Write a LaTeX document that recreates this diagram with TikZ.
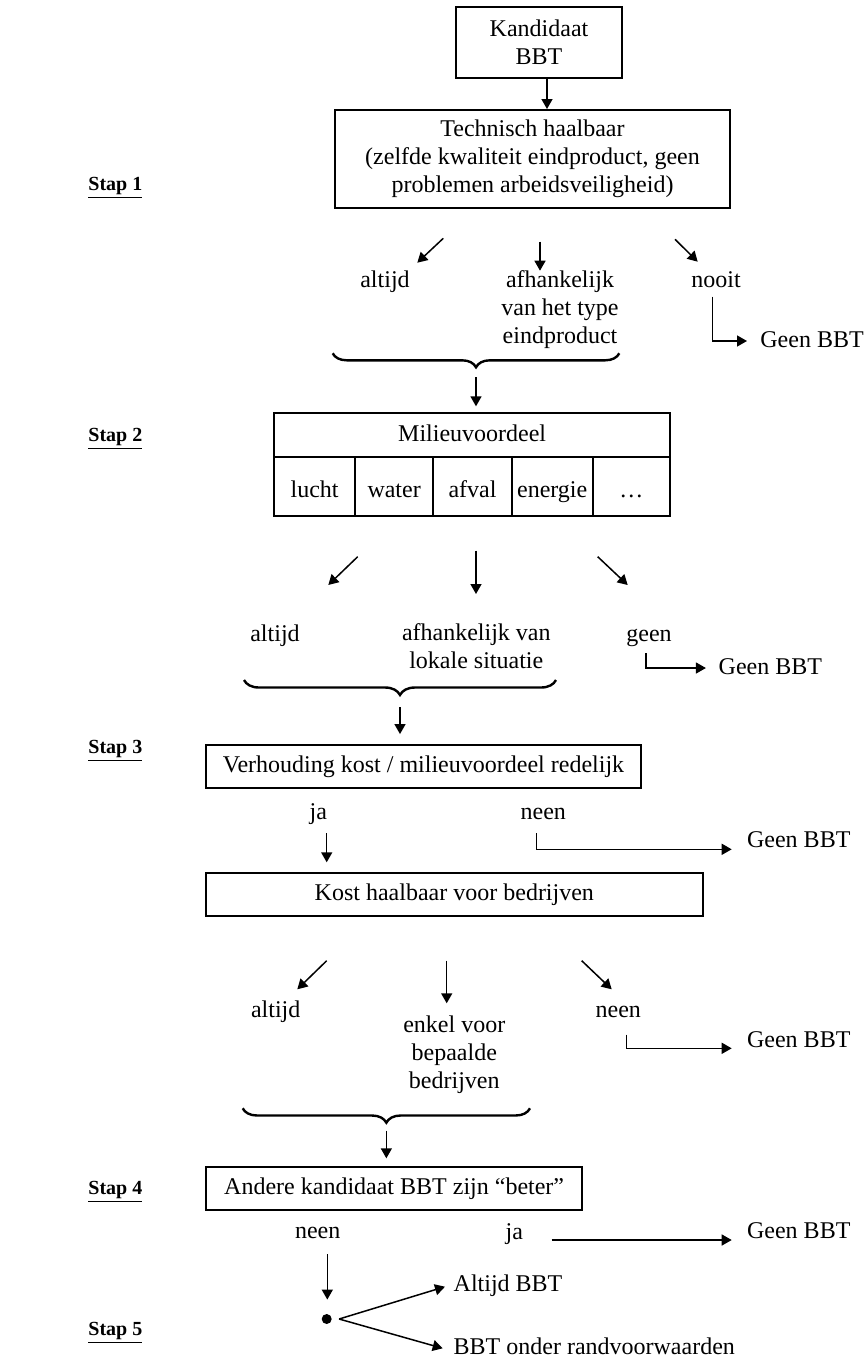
\documentclass[tikz,border=0pt]{standalone}
\usepackage{fontspec}
\setmainfont{Liberation Serif}
\usetikzlibrary{arrows.meta,decorations.pathreplacing}
\begin{document}
\begin{tikzpicture}[x=0.5pt,y=-0.5pt,
  every node/.style={font=\fontsize{12pt}{14pt}\selectfont},
  lbl/.style={inner sep=0pt,text height=9pt,text depth=3pt},
  multi/.style={inner sep=0pt,align=center},
  box/.style={draw,line width=1pt,inner sep=0pt,align=center},
  cell/.style={box,minimum height=29.5pt,text height=13pt,text depth=1.5pt},
  stap/.style={inner sep=0pt,text height=7.5pt,text depth=2.5pt,anchor=west,font=\fontsize{10pt}{12pt}\selectfont\bfseries},
  arr/.style={line width=0.75pt,-{Triangle[length=5pt,width=5.5pt]}},
  brc/.style={line width=1.2pt,decorate,decoration={brace,mirror,amplitude=#1}},
  knotdot/.style={circle,fill,inner sep=0pt,minimum size=5pt}
]
% page
\fill[white] (0,0) rectangle (864,1361);
\useasboundingbox (0,0) rectangle (864,1361);

% step labels
\node[stap] (s1) at (88,185) {\underline{Stap 1}};
\node[stap] (s2) at (88,436) {\underline{Stap 2}};
\node[stap] (s3) at (88,748) {\underline{Stap 3}};
\node[stap] (s4) at (88,1189) {\underline{Stap 4}};
\node[stap] (s5) at (88,1330) {\underline{Stap 5}};

% ---- step 1 ----
\node[box,minimum width=83pt,minimum height=35.5pt] (kand) at (539,42.5) {Kandidaat\\BBT};
\node[box,minimum width=197.5pt,minimum height=49pt] (tech) at (532.5,159)
  {Technisch haalbaar\\(zelfde kwaliteit eindproduct, geen\\problemen arbeidsveiligheid)};
\coordinate (k1) at ([xshift=4pt]kand.south);
\draw[arr] (k1) -- (k1 |- tech.north);

\coordinate (a1s) at (443.3,238.3); \coordinate (a1e) at (417.3,262.7);
\coordinate (b1s) at (540,241.7);   \coordinate (b1e) at (540,270.7);
\coordinate (c1s) at (675,239.3);   \coordinate (c1e) at (697.7,261.7);
\draw[arr] (a1s) -- (a1e);
\draw[arr] (b1s) -- (b1e);
\draw[arr] (c1s) -- (c1e);

\node[lbl] (alt1) at (385,281.7) {altijd};
\node[multi] (afh1) at (560,310) {afhankelijk\\van het type\\eindproduct};
\node[lbl] (nooit) at (716,281.7) {nooit};
\node[lbl,anchor=west] (g1) at (760,341) {Geen BBT};
\draw[arr] ([shift={(-3.3,15)}]nooit.center) |- ([xshift=-6.5pt]g1.west);

\draw[brc=7pt] (332.7,353.3) -- (619.3,353.3);
\coordinate (t1) at (476,367.3);

% ---- step 2 ----
\node[box,lbl,minimum width=197.85pt,minimum height=21.7pt] (mil) at (472.15,435) {Milieuvoordeel};
\node[cell,minimum width=40.35pt] (lucht) at (314.65,486.2) {lucht};
\node[cell,minimum width=39.15pt] (water) at (394.15,486.2) {water};
\node[cell,minimum width=39.2pt] (afval) at (472.5,486.2) {afval};
\node[cell,minimum width=40.5pt] (energie) at (552.2,486.2) {energie};
\node[cell,minimum width=38.65pt] (rest) at (631.35,486.2) {…};
\draw[arr,shorten <=5pt,shorten >=3pt] (t1) -- (t1 |- mil.north);

\coordinate (a2s) at (357.7,556.7); \coordinate (a2e) at (328.3,585);
\coordinate (b2s) at (476,550.7);   \coordinate (b2e) at (476,594);
\coordinate (c2s) at (597.7,556.7); \coordinate (c2e) at (627.7,585);
\draw[arr] (a2s) -- (a2e);
\draw[arr] (b2s) -- (b2e);
\draw[arr] (c2s) -- (c2e);

\node[lbl] (alt2) at (275,635) {altijd};
\node[multi] (afh2) at (476.3,646.5) {afhankelijk van\\lokale situatie};
\node[lbl] (geen) at (649,635) {geen};
\node[lbl,anchor=west] (g2) at (718.3,668) {Geen BBT};
\draw[arr] ([shift={(-3,18.3)}]geen.center) |- ([xshift=-6.2pt]g2.west);

\draw[brc=7.5pt] (244,680) -- (556,680);
\coordinate (t2) at (400,695);

% ---- step 3 ----
\node[box,lbl,minimum width=217.5pt,minimum height=21.65pt] (verh) at (423.5,766.7)
  {Verhouding kost / milieuvoordeel redelijk};
\draw[arr,shorten <=6pt,shorten >=5pt] (t2) -- (t2 |- verh.north);

\node[lbl] (ja3) at (318.3,813.3) {ja};
\node[lbl] (neen3) at (543.3,813.3) {neen};
\node[lbl,anchor=west] (g3) at (746.7,841.7) {Geen BBT};
\draw[arr] ([shift={(-6.6,20)}]neen3.center) |- ([shift={(-15,7.6)}]g3.west);

\node[box,lbl,minimum width=248.35pt,minimum height=21.65pt] (kost) at (454.35,894.35)
  {Kost haalbaar voor bedrijven};
\coordinate (j3) at ([shift={(8.4,20)}]ja3.center);
\draw[arr,shorten >=4.7pt] (j3) -- (j3 |- kost.north);

\coordinate (a3s) at (326.7,960.7); \coordinate (a3e) at (297.3,989.3);
\coordinate (b3s) at (446.7,960.7); \coordinate (b3e) at (446.7,1003.3);
\coordinate (c3s) at (581.7,960.7); \coordinate (c3e) at (611.7,989.3);
\draw[arr] (a3s) -- (a3e);
\draw[arr] (b3s) -- (b3e);
\draw[arr] (c3s) -- (c3e);

\node[lbl] (alt3) at (275.7,1011.7) {altijd};
\node[multi] (enkel) at (454.3,1055) {enkel voor\\bepaalde\\bedrijven};
\node[lbl] (neen4) at (618.3,1011.7) {neen};
\node[lbl,anchor=west] (g4) at (746.7,1041.7) {Geen BBT};
\draw[arr] ([shift={(8.4,22.8)}]neen4.center) |- ([shift={(-15,6.6)}]g4.west);

\draw[brc=7.2pt] (242.7,1108.3) -- (530,1108.3);
\coordinate (t3) at (386.35,1122.7);

% ---- step 4 ----
\node[box,lbl,minimum width=188.15pt,minimum height=21.65pt] (andere) at (394.15,1188.35)
  {Andere kandidaat BBT zijn “beter”};
\draw[arr,shorten <=4pt,shorten >=3.7pt] (t3) -- (t3 |- andere.north);

\node[lbl] (neen5) at (317.7,1232.5) {neen};
\node[lbl] (ja5) at (514.3,1233.3) {ja};
\node[lbl,anchor=west] (g5) at (746.7,1232.7) {Geen BBT};
\draw[arr] ([shift={(37.4,6.7)}]ja5.center) -- ([shift={(-15,7.3)}]g5.west);

% ---- step 5 ----
\node[knotdot] (knot) at (326.7,1319) {};
\coordinate (n5) at ([shift={(9.6,21.5)}]neen5.center);
\draw[arr,shorten >=7pt] (n5) -- (n5 |- knot.north);
\node[lbl,anchor=west] (ab) at (453.3,1285) {Altijd BBT};
\node[lbl,anchor=west] (ob) at (453.3,1348.3) {BBT onder randvoorwaarden};
\draw[arr] ([xshift=3.5pt]knot.east) -- ([shift={(-8.3,1.7)}]ab.west);
\draw[arr] ([xshift=3.5pt]knot.east) -- ([shift={(-10.6,0)}]ob.west);
\end{tikzpicture}
\end{document}
